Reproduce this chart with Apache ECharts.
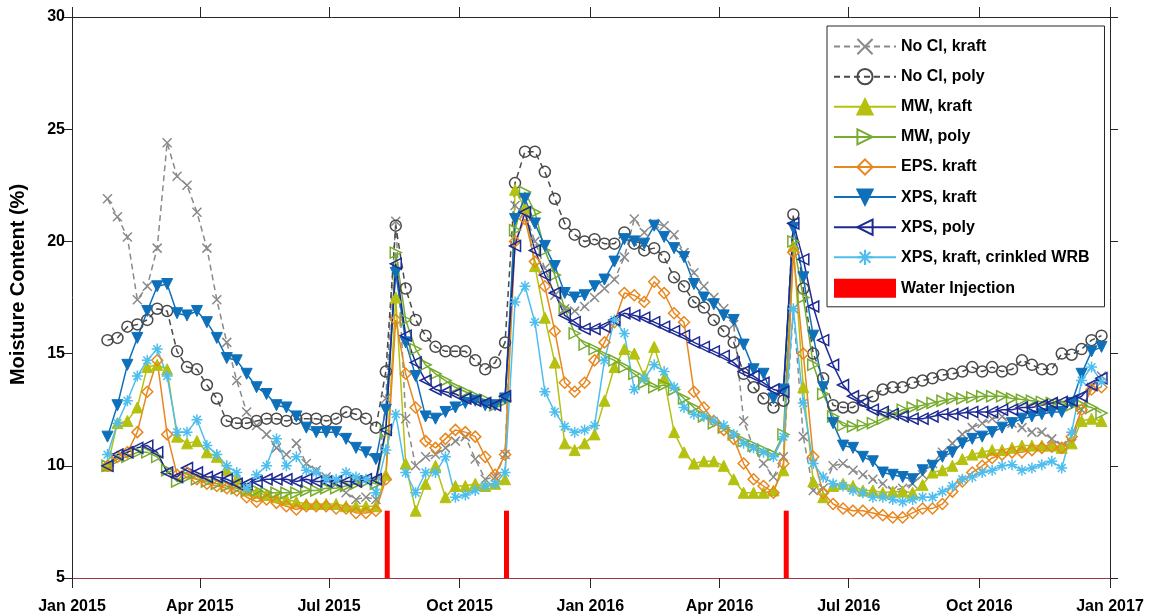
<!DOCTYPE html>
<html>
<head>
<meta charset="utf-8">
<script src="https://cdn.jsdelivr.net/npm/echarts@6/dist/echarts.min.js"></script>
<style>
html,body{margin:0;padding:0;background:#ffffff;}
#chart{width:1152px;height:616px;}
</style>
</head>
<body>
<div id="chart"></div>
<script>
// ---------------- DATA ----------------
const dates = [
  '2015-01-26','2015-02-02','2015-02-09','2015-02-16','2015-02-23','2015-03-02','2015-03-09','2015-03-16','2015-03-23','2015-03-30',
  '2015-04-06','2015-04-13','2015-04-20','2015-04-27','2015-05-04','2015-05-11','2015-05-18','2015-05-25','2015-06-01','2015-06-08',
  '2015-06-15','2015-06-22','2015-06-29','2015-07-06','2015-07-13','2015-07-20','2015-07-27','2015-08-03','2015-08-10',
  '2015-08-17','2015-08-24','2015-08-31','2015-09-07','2015-09-14','2015-09-21','2015-09-28','2015-10-05','2015-10-12','2015-10-19',
  '2015-10-26','2015-11-02',
  '2015-11-09','2015-11-16','2015-11-23','2015-11-30','2015-12-07','2015-12-14','2015-12-21','2015-12-28','2016-01-04','2016-01-11',
  '2016-01-18','2016-01-25','2016-02-01','2016-02-08','2016-02-15','2016-02-22','2016-02-29','2016-03-07','2016-03-14','2016-03-21',
  '2016-03-28','2016-04-04','2016-04-11','2016-04-18','2016-04-25','2016-05-02','2016-05-09','2016-05-16',
  '2016-05-23','2016-05-30','2016-06-06','2016-06-13','2016-06-20','2016-06-27','2016-07-04','2016-07-11','2016-07-18','2016-07-25',
  '2016-08-01','2016-08-08','2016-08-15','2016-08-22','2016-08-29','2016-09-05','2016-09-12','2016-09-19','2016-09-26','2016-10-03',
  '2016-10-10','2016-10-17','2016-10-24','2016-10-31','2016-11-07','2016-11-14','2016-11-21','2016-11-28','2016-12-05','2016-12-12',
  '2016-12-19','2016-12-26'
];

const noClKraft = [
  21.9,21.1,20.2,17.4,18.0,19.7,24.4,22.9,22.5,21.3,19.7,17.4,15.5,13.8,12.4,11.8,11.4,10.8,10.5,11.0,10.1,9.8,9.5,9.2,8.8,8.5,8.6,8.5,13.0,
  20.9,12.1,10.0,10.4,10.5,10.8,11.1,11.3,10.3,9.4,9.5,10.5,
  21.6,21.3,20.0,18.8,17.6,17.0,16.9,17.1,17.5,17.9,18.3,19.3,21.0,20.4,20.8,20.7,20.3,19.5,18.6,18.0,17.5,17.0,16.3,12.0,10.8,10.1,9.5,10.4,
  17.0,11.3,8.9,9.0,10.0,10.1,9.8,9.6,9.4,9.2,8.9,9.0,9.2,9.6,10.1,10.6,11.0,11.4,11.7,11.9,12.1,12.2,11.9,11.7,11.5,11.5,11.2,10.9,11.0,12.5,13.5,14.0
];
const noClPoly = [
  15.6,15.7,16.2,16.3,16.5,17.0,16.9,15.1,14.4,14.3,13.6,13.0,12.0,11.9,11.9,12.0,12.1,12.1,12.0,12.1,12.1,12.1,12.0,12.1,12.4,12.3,12.1,11.7,14.2,
  20.7,17.9,16.5,15.8,15.3,15.1,15.1,15.1,14.7,14.3,14.6,15.5,
  22.6,24.0,24.0,23.1,21.9,20.8,20.3,20.0,20.1,19.9,19.9,20.4,19.9,19.6,19.7,19.3,18.4,18.0,17.3,17.05,16.5,16.0,15.5,14.1,13.5,13.0,12.6,12.9,
  21.2,17.9,15.0,13.9,12.7,12.6,12.6,12.9,13.1,13.4,13.5,13.5,13.7,13.8,13.9,14.05,14.1,14.2,14.4,14.2,14.4,14.2,14.3,14.7,14.5,14.3,14.3,15.0,14.95,15.2,15.6,15.8
];
const mwKraft = [
  10.0,11.9,12.0,12.6,14.4,14.5,14.3,11.3,11.0,11.1,10.6,10.4,9.8,9.4,8.9,8.8,8.7,8.6,8.5,8.4,8.3,8.3,8.3,8.3,8.2,8.2,8.2,8.2,9.6,
  17.5,10.1,8.0,9.2,10.0,8.6,9.1,9.1,9.2,9.1,9.2,9.4,
  22.3,21.5,18.9,16.6,14.6,11.0,10.7,11.0,11.4,12.9,14.4,15.2,15.0,14.0,15.3,13.9,11.5,10.6,10.1,10.2,10.2,10.0,9.4,8.8,8.8,8.8,8.9,9.8,
  19.8,13.5,9.3,8.6,9.1,9.2,9.1,8.9,8.9,8.8,8.85,8.85,8.8,9.15,9.7,9.8,10.0,10.3,10.5,10.6,10.7,10.7,10.8,10.9,10.9,10.9,10.9,10.8,11.0,12.0,12.1,12.0
];
const mwPoly = [
  10.0,10.3,10.4,10.6,10.6,10.4,9.8,9.3,9.5,9.4,9.3,9.2,9.1,9.0,8.9,8.9,8.8,8.8,8.8,8.8,8.9,8.9,9.0,9.0,9.1,9.2,9.3,9.2,11.5,
  19.5,16.5,15.2,14.5,14.1,13.8,13.5,13.3,13.1,12.95,12.7,12.9,
  20.5,22.2,21.3,19.6,18.5,17.0,15.9,15.4,15.2,14.9,14.7,14.4,14.1,13.7,13.5,13.6,13.4,13.0,12.6,12.2,11.9,11.7,11.4,11.1,10.9,10.7,10.5,11.4,
  20.0,17.5,14.5,13.2,12.2,11.8,11.75,11.8,11.9,12.1,12.3,12.5,12.6,12.7,12.8,12.9,13.0,13.0,13.05,13.1,13.1,13.1,13.0,12.95,12.9,12.85,12.8,12.75,12.7,12.7,12.6,12.35
];
const epsKraft = [
  10.0,10.4,10.6,11.5,13.3,14.7,11.4,9.6,9.7,9.4,9.2,9.1,9.0,8.9,8.6,8.4,8.5,8.35,8.2,8.05,8.2,8.2,8.2,8.1,8.1,7.9,7.9,8.0,9.4,
  16.5,14.1,12.6,11.1,10.8,11.2,11.6,11.5,11.3,10.4,9.6,10.5,
  20.0,21.0,19.1,18.0,16.0,13.7,13.3,13.7,14.7,15.5,16.4,17.7,17.6,17.3,18.2,17.7,16.8,16.4,13.3,12.6,12.0,11.6,11.2,10.1,9.4,9.1,8.8,10.1,
  19.5,15.0,10.4,8.8,8.3,8.1,8.0,8.0,7.9,7.8,7.7,7.7,7.9,8.1,8.1,8.3,8.85,9.3,9.7,10.0,10.35,10.5,10.6,10.6,10.7,10.8,10.85,10.8,11.3,12.5,13.4,13.5
];
const xpsKraft = [
  11.3,12.7,14.5,15.7,16.9,18.0,18.1,16.8,16.7,16.9,16.4,15.7,14.8,14.7,14.1,13.5,13.2,12.7,12.6,12.2,11.7,11.5,11.5,11.5,11.2,10.8,10.6,10.3,12.5,
  18.6,15.5,14.0,12.2,12.1,12.4,12.6,12.8,12.9,12.7,12.7,13.0,
  21.0,21.9,20.8,19.8,18.9,17.7,17.5,17.6,18.0,18.3,19.1,20.1,20.0,19.9,20.7,20.2,19.7,19.3,18.1,17.5,17.2,16.7,16.5,15.4,14.3,14.1,13.0,13.4,
  20.6,18.4,15.8,13.5,11.9,10.9,10.8,10.4,10.2,9.7,9.6,9.5,9.4,9.8,10.0,10.4,10.6,11.0,11.2,11.3,11.5,11.7,11.9,12.1,12.2,12.3,12.4,12.4,12.8,14.1,15.1,15.3
];
const xpsPoly = [
  10.0,10.5,10.6,10.8,10.9,10.6,9.7,9.5,9.9,9.7,9.5,9.5,9.4,9.2,9.2,9.3,9.4,9.4,9.4,9.3,9.4,9.3,9.3,9.3,9.3,9.3,9.4,9.4,11.6,
  19.0,15.8,14.6,13.8,13.4,13.3,13.2,13.0,12.9,12.8,12.7,13.1,
  19.8,21.3,19.6,18.5,17.7,16.7,16.4,16.1,16.1,16.2,16.5,16.8,16.7,16.6,16.4,16.2,16.0,15.8,15.5,15.3,15.1,14.9,14.6,14.2,14.0,13.7,13.4,13.3,
  20.8,19.2,17.1,15.6,14.5,13.6,13.1,12.8,12.5,12.4,12.3,12.2,12.1,12.1,12.2,12.3,12.3,12.35,12.4,12.4,12.4,12.5,12.5,12.6,12.6,12.7,12.8,12.85,12.9,13.1,13.6,13.9
];
const xpsCrinkled = [
  10.5,11.9,12.9,14.0,14.7,15.2,14.0,11.5,11.5,12.05,10.9,10.5,10.0,9.7,9.0,9.6,10.0,11.2,10.0,10.4,9.8,9.7,9.4,9.4,9.7,9.5,9.4,8.8,10.7,
  12.3,9.7,8.8,9.7,9.7,10.4,8.6,8.7,8.9,9.1,9.2,9.7,
  17.3,18.0,16.4,13.3,12.4,11.75,11.5,11.6,11.8,14.7,16.5,15.9,13.4,13.9,14.5,14.2,13.5,12.6,12.3,12.2,12.0,11.8,11.4,11.0,10.8,10.6,10.4,11.3,
  17.0,12.8,10.1,9.5,9.2,9.1,8.9,8.8,8.6,8.6,8.5,8.4,8.5,8.6,8.6,8.85,9.1,9.4,9.5,9.7,9.8,10.0,10.05,9.8,9.9,10.05,10.2,9.9,11.5,13.8,14.4,13.75
];

const injectionDates = ['2015-08-11','2015-11-03','2016-05-18'];
const injectionValues = [8, 8, 8];

const xTickDates = ['2015-01-01','2015-04-01','2015-07-01','2015-10-01','2016-01-01','2016-04-01','2016-07-01','2016-10-01','2017-01-01'];
const xTickLabels = ['Jan 2015','Apr 2015','Jul 2015','Oct 2015','Jan 2016','Apr 2016','Jul 2016','Oct 2016','Jan 2017'];
const yMin = 5, yMax = 30, yStep = 5;

const seriesNames = ['No Cl, kraft','No Cl, poly','MW, kraft','MW, poly','EPS. kraft','XPS, kraft','XPS, poly','XPS, kraft, crinkled WRB','Water Injection'];

// ---------------- HELPERS ----------------
const ORIGIN = Date.UTC(2015, 0, 1);
function dayOf(s) {
  const p = s.split('-').map(Number);
  return (Date.UTC(p[0], p[1] - 1, p[2]) - ORIGIN) / 86400000;
}
const xDays = dates.map(dayOf);
const tickDays = xTickDates.map(dayOf);
const tickLabelByDay = {};
tickDays.forEach((d, i) => { tickLabelByDay[d] = xTickLabels[i]; });
function pairs(vals) { return vals.map((v, i) => [xDays[i], v]); }

const FONT = "'Liberation Sans', Arial, sans-serif";
const AXIS = '#262626';
const TRANSPARENT = 'rgba(0,0,0,0)';

const SYM_X = 'path://M0,0L10,10M10,0L0,10';
const SYM_AST = 'path://M5,0L5,10M0,5L10,5M1.46,1.46L8.54,8.54M8.54,1.46L1.46,8.54';

function lineSeries(name, vals, opt) {
  return {
    name: name,
    type: 'line',
    data: pairs(vals),
    symbol: opt.symbol,
    symbolSize: opt.size || 11,
    symbolRotate: opt.rotate || 0,
    showAllSymbol: true,
    clip: true,
    lineStyle: { color: opt.color, width: 1.5, type: opt.dash ? [6, 4] : 'solid' },
    itemStyle: opt.filled
      ? { color: opt.color, borderColor: opt.color, borderWidth: 1 }
      : { color: TRANSPARENT, borderColor: opt.color, borderWidth: 1.5 },
    emphasis: { disabled: true },
    z: 2
  };
}

const series = [
  lineSeries(seriesNames[0], noClKraft, { symbol: SYM_X, size: 9, color: '#8a8a8a', dash: true }),
  lineSeries(seriesNames[1], noClPoly, { symbol: 'circle', size: 11, color: '#4a4a4a', dash: true }),
  lineSeries(seriesNames[2], mwKraft, { symbol: 'triangle', size: 11, color: '#b5c10f', filled: true }),
  lineSeries(seriesNames[3], mwPoly, { symbol: 'triangle', size: 11, rotate: -90, color: '#77ac30' }),
  lineSeries(seriesNames[4], epsKraft, { symbol: 'diamond', size: 11, color: '#e8871e' }),
  lineSeries(seriesNames[5], xpsKraft, { symbol: 'triangle', size: 11, rotate: 180, color: '#0f70ba', filled: true }),
  lineSeries(seriesNames[6], xpsPoly, { symbol: 'triangle', size: 11, rotate: 90, color: '#1e2a94' }),
  lineSeries(seriesNames[7], xpsCrinkled, { symbol: SYM_AST, size: 11, color: '#4dbeee' }),
  {
    name: seriesNames[8],
    type: 'custom',
    data: injectionDates.map((d, i) => [dayOf(d), injectionValues[i]]),
    encode: { x: 0, y: 1 },
    itemStyle: { color: '#ff0000' },
    z: 5,
    renderItem: function (params, api) {
      const top = api.coord([api.value(0), api.value(1)]);
      const base = api.coord([api.value(0), yMin]);
      return {
        type: 'rect',
        shape: { x: top[0] - 2.5, y: top[1], width: 5, height: base[1] - top[1] },
        style: { fill: '#ff0000' }
      };
    }
  }
];

const labelStyle = { color: '#000', fontFamily: FONT, fontWeight: 'bold', fontSize: 16 };

const option = {
  animation: false,
  backgroundColor: '#ffffff',
  textStyle: { fontFamily: FONT },
  grid: { left: 72, right: 42, top: 17, bottom: 38, containLabel: false, outerBoundsMode: 'none' },
  legend: {
    orient: 'vertical',
    left: 827,
    top: 26,
    padding: [12, 15, 9, 6],
    itemWidth: 62,
    itemHeight: 19,
    itemGap: 12.9,
    backgroundColor: '#ffffff',
    borderColor: '#262626',
    borderWidth: 1,
    borderRadius: 0,
    selectedMode: false,
    textStyle: { color: '#000', fontFamily: FONT, fontWeight: 'bold', fontSize: 16 },
    data: seriesNames.map((n, i) => i === 8 ? { name: n, icon: 'rect' } : { name: n })
  },
  xAxis: [
    {
      type: 'value', position: 'bottom', min: tickDays[0], max: tickDays[tickDays.length - 1],
      axisLine: { show: true, onZero: false, lineStyle: { color: '#a33543', width: 1 } },
      axisTick: { show: true, customValues: tickDays, length: 10, lineStyle: { color: AXIS } },
      axisLabel: {
        show: true, customValues: tickDays, margin: 21, ...labelStyle,
        formatter: v => tickLabelByDay[v] || ''
      },
      splitLine: { show: false }
    },
    {
      type: 'value', position: 'top', min: tickDays[0], max: tickDays[tickDays.length - 1],
      axisLine: { show: true, onZero: false, lineStyle: { color: AXIS, width: 1 } },
      axisTick: { show: true, customValues: tickDays, length: 10, lineStyle: { color: AXIS } },
      axisLabel: { show: false },
      splitLine: { show: false }
    }
  ],
  yAxis: [
    {
      type: 'value', position: 'left', min: yMin, max: yMax, interval: yStep,
      name: 'Moisture Content (%)', nameLocation: 'middle', nameGap: 44,
      nameTextStyle: { color: '#000', fontFamily: FONT, fontWeight: 'bold', fontSize: 20, padding: [0, 0, 0, 26] },
      axisLine: { show: true, onZero: false, lineStyle: { color: AXIS, width: 1 } },
      axisTick: { show: true, length: 8, lineStyle: { color: AXIS } },
      axisLabel: { show: true, margin: 7, ...labelStyle },
      splitLine: { show: false }
    },
    {
      type: 'value', position: 'right', min: yMin, max: yMax, interval: yStep,
      axisLine: { show: true, onZero: false, lineStyle: { color: AXIS, width: 1 } },
      axisTick: { show: true, length: 8, lineStyle: { color: AXIS } },
      axisLabel: { show: false },
      splitLine: { show: false }
    }
  ],
  series: series
};

const chart = echarts.init(document.getElementById('chart'), null, { renderer: 'canvas' });
chart.setOption(option);
</script>
</body>
</html>
